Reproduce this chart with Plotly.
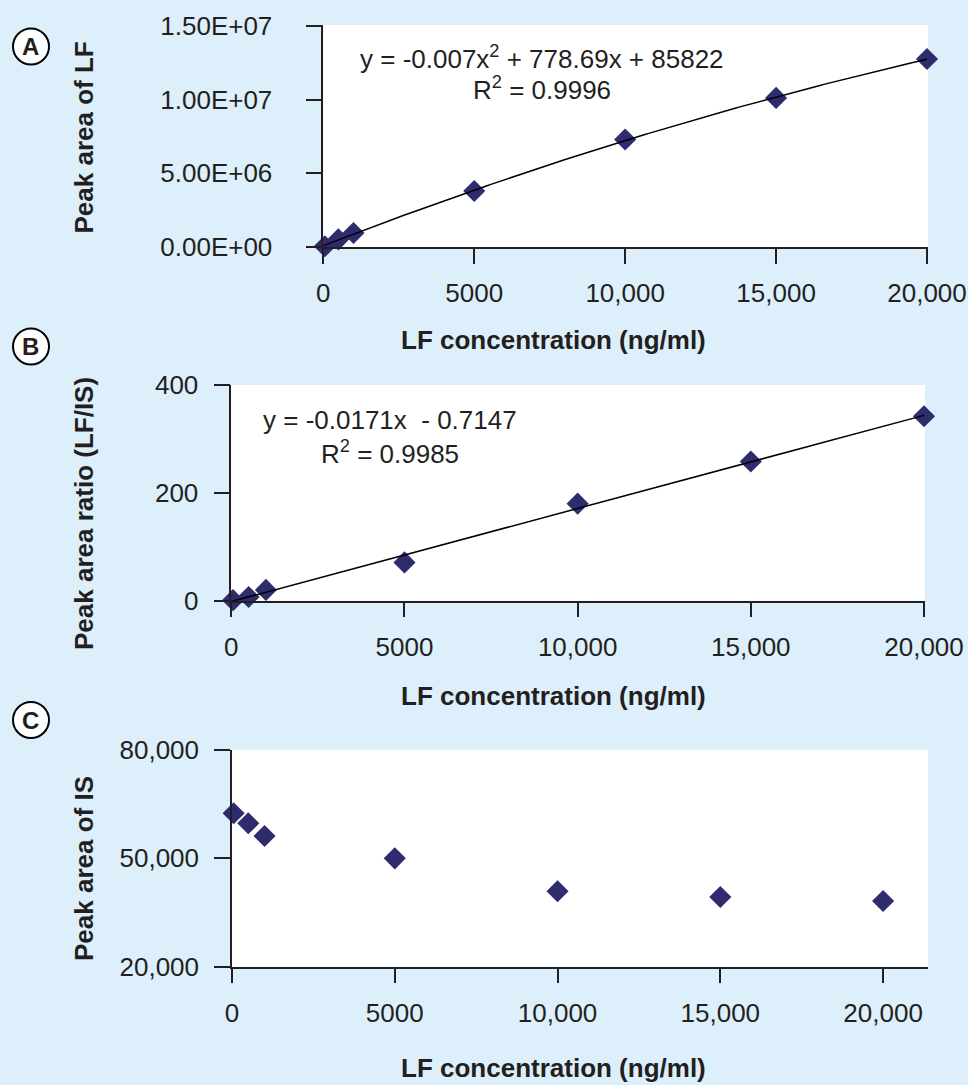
import numpy as np
import plotly.graph_objects as go

W, H = 968, 1085

# ---------------- data ----------------
conc = [50, 500, 1000, 5000, 10000, 15000, 20000]
peak_area_lf = [50000, 520000, 950000, 3800000, 7300000, 10120000, 12760000]
ratio_lf_is = [1, 7, 20, 71, 180, 258, 342]
peak_area_is = [62500, 59700, 56200, 50000, 40900, 39300, 38200]

a_yticks = [0, 5e6, 1e7, 1.5e7]
a_yticktext = ["0.00E+00", "5.00E+06", "1.00E+07", "1.50E+07"]
b_yticks = [0, 200, 400]
b_yticktext = ["0", "200", "400"]
c_yticks = [20000, 50000, 80000]
c_yticktext = ["20,000", "50,000", "80,000"]
xticks = [0, 5000, 10000, 15000, 20000]
xticktext = ["0", "5000", "10,000", "15,000", "20,000"]

eq_a = ["y = -0.007x<sup>2</sup> + 778.69x + 85822", "R<sup>2</sup> = 0.9996"]
eq_b = ["y = -0.0171x\u00a0 - 0.7147", "R<sup>2</sup> = 0.9985"]
panel_letters = ["A", "B", "C"]
x_title = "LF concentration (ng/ml)"
y_titles = ["Peak area of LF", "Peak area ratio (LF/IS)", "Peak area of IS"]

# ---------------- style ----------------
BG = "#DDEFFB"
MK = "#2E2B6E"
INK = "#231F20"
FONT = "Liberation Sans, Arial, sans-serif"


def fx(p):
    return p / W


def fy(p):
    return 1 - p / H


# trend lines fitted from the data (as the spreadsheet trendline does)
xs = np.linspace(0, 20000, 200)
fit_a = np.polyfit(conc, peak_area_lf, 2)
fit_b = np.polyfit(conc, ratio_lf_is, 1)

fig = go.Figure()
marker = dict(symbol="diamond", size=17, color=MK, line=dict(width=0))

fig.add_trace(go.Scatter(x=conc, y=peak_area_lf, mode="markers", marker=marker,
                         cliponaxis=False, xaxis="x", yaxis="y", showlegend=False))
fig.add_trace(go.Scatter(x=xs, y=np.polyval(fit_a, xs), mode="lines",
                         line=dict(color="black", width=1.5), cliponaxis=False,
                         xaxis="x", yaxis="y", showlegend=False))
fig.add_trace(go.Scatter(x=conc, y=ratio_lf_is, mode="markers", marker=marker,
                         cliponaxis=False, xaxis="x2", yaxis="y2", showlegend=False))
fig.add_trace(go.Scatter(x=xs, y=np.polyval(fit_b, xs), mode="lines",
                         line=dict(color="black", width=1.5), cliponaxis=False,
                         xaxis="x2", yaxis="y2", showlegend=False))
fig.add_trace(go.Scatter(x=conc, y=peak_area_is, mode="markers", marker=marker,
                         cliponaxis=False, xaxis="x3", yaxis="y3", showlegend=False))

tickfont = dict(family=FONT, size=26, color=INK)
common = dict(showline=True, linecolor=INK, linewidth=1.5, ticks="outside",
              tickcolor=INK, tickwidth=1.5, showgrid=False, zeroline=False,
              tickfont=tickfont, automargin=False, fixedrange=True)

xax = dict(common, ticklen=15, tickvals=xticks, ticktext=xticktext,
           ticklabelstandoff=7)
fig.update_layout(
    xaxis=dict(xax, domain=[fx(323.3), fx(928)], range=[0, 20033], anchor="y"),
    yaxis=dict(common, ticklen=16, domain=[fy(247), fy(25)],
               range=[0, 1.5068e7], tickvals=a_yticks, ticktext=a_yticktext,
               ticklabelstandoff=28, anchor="x"),
    xaxis2=dict(xax, domain=[fx(231.3), fx(925)], range=[0, 20029], anchor="y2"),
    yaxis2=dict(common, ticklen=16, domain=[fy(600.7), fy(385)],
                range=[0, 400], tickvals=b_yticks, ticktext=b_yticktext,
                ticklabelstandoff=10, anchor="x2"),
    xaxis3=dict(xax, domain=[fx(232), fx(928)], range=[0, 21380], anchor="y3"),
    yaxis3=dict(common, ticklen=16, domain=[fy(966.7), fy(750)],
                range=[20000, 80000], tickvals=c_yticks, ticktext=c_yticktext,
                ticklabelstandoff=10, anchor="x3"),
)

annotations = []
shapes = []
# axis titles
for yc in [340, 696, 1068]:
    annotations.append(dict(text=x_title, x=fx(553.5), y=fy(yc), xref="paper",
                            yref="paper", showarrow=False, xanchor="center",
                            yanchor="middle",
                            font=dict(family=FONT, size=26, color=INK, weight="bold")))
for t, yc in zip(y_titles, [137.5, 514, 869]):
    annotations.append(dict(text=t, x=fx(84), y=fy(yc), xref="paper", yref="paper",
                            showarrow=False, textangle=-90, xanchor="center",
                            yanchor="middle",
                            font=dict(family=FONT, size=26, color=INK, weight="bold")))
# equations
for t, (xc, yc) in zip(eq_a + eq_b, [(542, 57), (542, 89), (390, 420), (390, 452)]):
    annotations.append(dict(text=t, x=fx(xc), y=fy(yc), xref="paper", yref="paper",
                            showarrow=False, xanchor="center", yanchor="middle",
                            font=dict(family=FONT, size=26, color=INK)))
# panel letters
for t, yc in zip(panel_letters, [46.5, 346.5, 720]):
    r = 18
    shapes.append(dict(type="circle", xref="paper", yref="paper",
                       x0=fx(31 - r), x1=fx(31 + r), y0=fy(yc + r), y1=fy(yc - r),
                       line=dict(color="black", width=2), fillcolor="white",
                       layer="above"))
    annotations.append(dict(text=t, x=fx(31), y=fy(yc), xref="paper", yref="paper",
                            showarrow=False, xanchor="center", yanchor="middle",
                            font=dict(family=FONT, size=24, color=INK, weight="bold")))

fig.update_layout(
    template="none",
    width=W, height=H,
    margin=dict(l=0, r=0, t=0, b=0, pad=0),
    paper_bgcolor=BG, plot_bgcolor="white",
    annotations=annotations, shapes=shapes,
    showlegend=False,
)

fig.write_html("out.html", config={"displayModeBar": False})
